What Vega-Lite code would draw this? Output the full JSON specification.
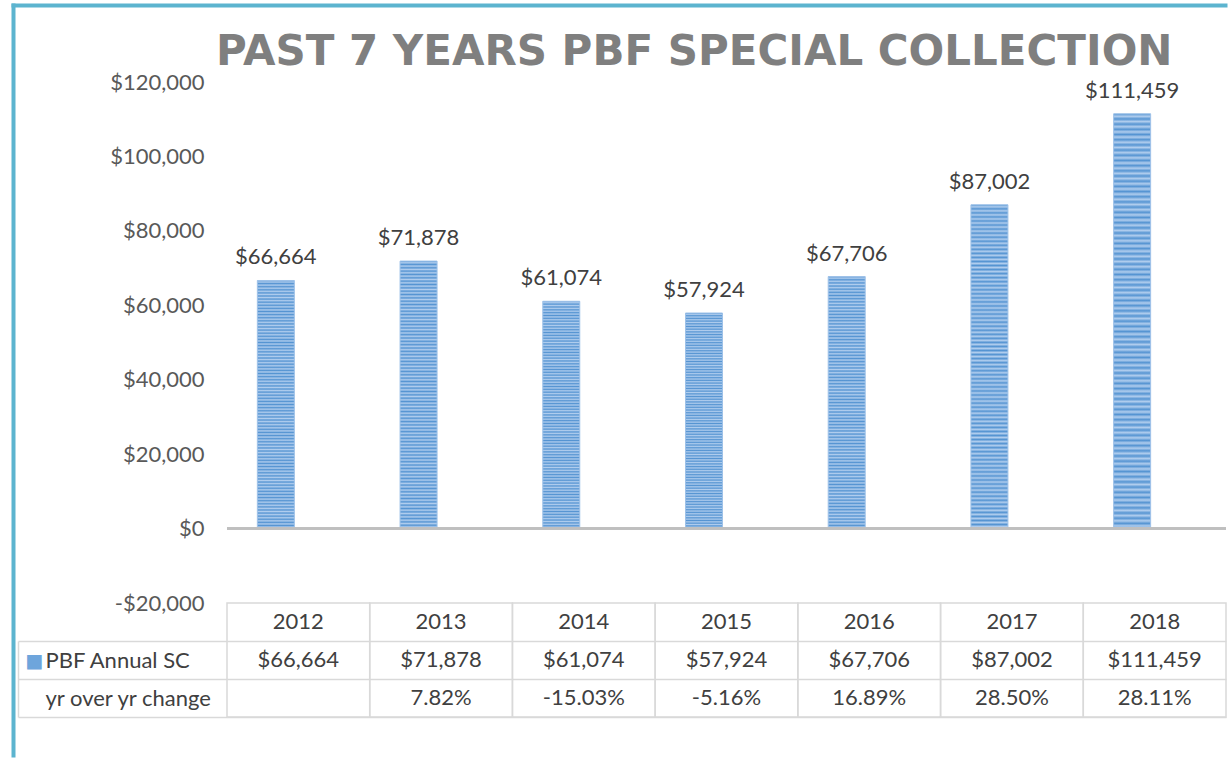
{
  "$schema": "https://vega.github.io/schema/vega-lite/v6.json",
  "background": "white",
  "padding": {"left": 8, "top": 5, "right": 0, "bottom": 0},
  "autosize": {"type": "pad"},
  "spacing": 0,
  "bounds": "flush",
  "config": {
    "view": {"stroke": null},
    "font": "Lato",
    "locale": {"number": {"decimal": ".", "thousands": ",", "grouping": [3], "currency": ["$", ""], "minus": "-"}},
    "text": {"font": "Lato", "fontSize": 22, "color": "#404040"}
  },
  "datasets": {
    "collection": [
      {"year": "2012", "series": "PBF Annual SC", "value": 66664},
      {"year": "2013", "series": "PBF Annual SC", "value": 71878},
      {"year": "2014", "series": "PBF Annual SC", "value": 61074},
      {"year": "2015", "series": "PBF Annual SC", "value": 57924},
      {"year": "2016", "series": "PBF Annual SC", "value": 67706},
      {"year": "2017", "series": "PBF Annual SC", "value": 87002},
      {"year": "2018", "series": "PBF Annual SC", "value": 111459},
      {"year": "2013", "series": "yr over yr change", "value": 0.0782},
      {"year": "2014", "series": "yr over yr change", "value": -0.1503},
      {"year": "2015", "series": "yr over yr change", "value": -0.0516},
      {"year": "2016", "series": "yr over yr change", "value": 0.1689},
      {"year": "2017", "series": "yr over yr change", "value": 0.2850},
      {"year": "2018", "series": "yr over yr change", "value": 0.2811}
    ]
  },
  "vconcat": [
    {
      "width": 999,
      "height": 521,
      "title": {
        "text": "PAST 7 YEARS PBF SPECIAL COLLECTION",
        "frame": "group",
        "anchor": "start",
        "dx": -11,
        "offset": -102,
        "baseline": "alphabetic",
        "font": "DejaVu Sans",
        "fontSize": 42,
        "fontWeight": "bold",
        "color": "#7f7f7f"
      },
      "layer": [
        {
          "data": {"name": "collection"},
          "transform": [{"filter": "datum.series === 'PBF Annual SC'"}],
          "layer": [
            {
              "mark": {
                "type": "bar",
                "stroke": "#9dc1e8",
                "strokeWidth": 1,
                "fill": {
                  "gradient": "linear", "x1": 0, "y1": 0, "x2": 0, "y2": 1,
                  "stops": [
                    {"offset": 0, "color": "#5594d2"}, {"offset": 0.00625, "color": "#b0cdee"}, {"offset": 0.0125, "color": "#5594d2"}, {"offset": 0.01875, "color": "#b0cdee"}, {"offset": 0.025, "color": "#5594d2"}, {"offset": 0.03125, "color": "#b0cdee"}, {"offset": 0.0375, "color": "#5594d2"}, {"offset": 0.04375, "color": "#b0cdee"}, {"offset": 0.05, "color": "#5594d2"}, {"offset": 0.05625, "color": "#b0cdee"}, {"offset": 0.0625, "color": "#5594d2"}, {"offset": 0.06875, "color": "#b0cdee"}, {"offset": 0.075, "color": "#5594d2"}, {"offset": 0.08125, "color": "#b0cdee"}, {"offset": 0.0875, "color": "#5594d2"}, {"offset": 0.09375, "color": "#b0cdee"},
                    {"offset": 0.1, "color": "#5594d2"}, {"offset": 0.10625, "color": "#b0cdee"}, {"offset": 0.1125, "color": "#5594d2"}, {"offset": 0.11875, "color": "#b0cdee"}, {"offset": 0.125, "color": "#5594d2"}, {"offset": 0.13125, "color": "#b0cdee"}, {"offset": 0.1375, "color": "#5594d2"}, {"offset": 0.14375, "color": "#b0cdee"}, {"offset": 0.15, "color": "#5594d2"}, {"offset": 0.15625, "color": "#b0cdee"}, {"offset": 0.1625, "color": "#5594d2"}, {"offset": 0.16875, "color": "#b0cdee"}, {"offset": 0.175, "color": "#5594d2"}, {"offset": 0.18125, "color": "#b0cdee"}, {"offset": 0.1875, "color": "#5594d2"}, {"offset": 0.19375, "color": "#b0cdee"},
                    {"offset": 0.2, "color": "#5594d2"}, {"offset": 0.20625, "color": "#b0cdee"}, {"offset": 0.2125, "color": "#5594d2"}, {"offset": 0.21875, "color": "#b0cdee"}, {"offset": 0.225, "color": "#5594d2"}, {"offset": 0.23125, "color": "#b0cdee"}, {"offset": 0.2375, "color": "#5594d2"}, {"offset": 0.24375, "color": "#b0cdee"}, {"offset": 0.25, "color": "#5594d2"}, {"offset": 0.25625, "color": "#b0cdee"}, {"offset": 0.2625, "color": "#5594d2"}, {"offset": 0.26875, "color": "#b0cdee"}, {"offset": 0.275, "color": "#5594d2"}, {"offset": 0.28125, "color": "#b0cdee"}, {"offset": 0.2875, "color": "#5594d2"}, {"offset": 0.29375, "color": "#b0cdee"},
                    {"offset": 0.3, "color": "#5594d2"}, {"offset": 0.30625, "color": "#b0cdee"}, {"offset": 0.3125, "color": "#5594d2"}, {"offset": 0.31875, "color": "#b0cdee"}, {"offset": 0.325, "color": "#5594d2"}, {"offset": 0.33125, "color": "#b0cdee"}, {"offset": 0.3375, "color": "#5594d2"}, {"offset": 0.34375, "color": "#b0cdee"}, {"offset": 0.35, "color": "#5594d2"}, {"offset": 0.35625, "color": "#b0cdee"}, {"offset": 0.3625, "color": "#5594d2"}, {"offset": 0.36875, "color": "#b0cdee"}, {"offset": 0.375, "color": "#5594d2"}, {"offset": 0.38125, "color": "#b0cdee"}, {"offset": 0.3875, "color": "#5594d2"}, {"offset": 0.39375, "color": "#b0cdee"},
                    {"offset": 0.4, "color": "#5594d2"}, {"offset": 0.40625, "color": "#b0cdee"}, {"offset": 0.4125, "color": "#5594d2"}, {"offset": 0.41875, "color": "#b0cdee"}, {"offset": 0.425, "color": "#5594d2"}, {"offset": 0.43125, "color": "#b0cdee"}, {"offset": 0.4375, "color": "#5594d2"}, {"offset": 0.44375, "color": "#b0cdee"}, {"offset": 0.45, "color": "#5594d2"}, {"offset": 0.45625, "color": "#b0cdee"}, {"offset": 0.4625, "color": "#5594d2"}, {"offset": 0.46875, "color": "#b0cdee"}, {"offset": 0.475, "color": "#5594d2"}, {"offset": 0.48125, "color": "#b0cdee"}, {"offset": 0.4875, "color": "#5594d2"}, {"offset": 0.49375, "color": "#b0cdee"},
                    {"offset": 0.5, "color": "#5594d2"}, {"offset": 0.50625, "color": "#b0cdee"}, {"offset": 0.5125, "color": "#5594d2"}, {"offset": 0.51875, "color": "#b0cdee"}, {"offset": 0.525, "color": "#5594d2"}, {"offset": 0.53125, "color": "#b0cdee"}, {"offset": 0.5375, "color": "#5594d2"}, {"offset": 0.54375, "color": "#b0cdee"}, {"offset": 0.55, "color": "#5594d2"}, {"offset": 0.55625, "color": "#b0cdee"}, {"offset": 0.5625, "color": "#5594d2"}, {"offset": 0.56875, "color": "#b0cdee"}, {"offset": 0.575, "color": "#5594d2"}, {"offset": 0.58125, "color": "#b0cdee"}, {"offset": 0.5875, "color": "#5594d2"}, {"offset": 0.59375, "color": "#b0cdee"},
                    {"offset": 0.6, "color": "#5594d2"}, {"offset": 0.60625, "color": "#b0cdee"}, {"offset": 0.6125, "color": "#5594d2"}, {"offset": 0.61875, "color": "#b0cdee"}, {"offset": 0.625, "color": "#5594d2"}, {"offset": 0.63125, "color": "#b0cdee"}, {"offset": 0.6375, "color": "#5594d2"}, {"offset": 0.64375, "color": "#b0cdee"}, {"offset": 0.65, "color": "#5594d2"}, {"offset": 0.65625, "color": "#b0cdee"}, {"offset": 0.6625, "color": "#5594d2"}, {"offset": 0.66875, "color": "#b0cdee"}, {"offset": 0.675, "color": "#5594d2"}, {"offset": 0.68125, "color": "#b0cdee"}, {"offset": 0.6875, "color": "#5594d2"}, {"offset": 0.69375, "color": "#b0cdee"},
                    {"offset": 0.7, "color": "#5594d2"}, {"offset": 0.70625, "color": "#b0cdee"}, {"offset": 0.7125, "color": "#5594d2"}, {"offset": 0.71875, "color": "#b0cdee"}, {"offset": 0.725, "color": "#5594d2"}, {"offset": 0.73125, "color": "#b0cdee"}, {"offset": 0.7375, "color": "#5594d2"}, {"offset": 0.74375, "color": "#b0cdee"}, {"offset": 0.75, "color": "#5594d2"}, {"offset": 0.75625, "color": "#b0cdee"}, {"offset": 0.7625, "color": "#5594d2"}, {"offset": 0.76875, "color": "#b0cdee"}, {"offset": 0.775, "color": "#5594d2"}, {"offset": 0.78125, "color": "#b0cdee"}, {"offset": 0.7875, "color": "#5594d2"}, {"offset": 0.79375, "color": "#b0cdee"},
                    {"offset": 0.8, "color": "#5594d2"}, {"offset": 0.80625, "color": "#b0cdee"}, {"offset": 0.8125, "color": "#5594d2"}, {"offset": 0.81875, "color": "#b0cdee"}, {"offset": 0.825, "color": "#5594d2"}, {"offset": 0.83125, "color": "#b0cdee"}, {"offset": 0.8375, "color": "#5594d2"}, {"offset": 0.84375, "color": "#b0cdee"}, {"offset": 0.85, "color": "#5594d2"}, {"offset": 0.85625, "color": "#b0cdee"}, {"offset": 0.8625, "color": "#5594d2"}, {"offset": 0.86875, "color": "#b0cdee"}, {"offset": 0.875, "color": "#5594d2"}, {"offset": 0.88125, "color": "#b0cdee"}, {"offset": 0.8875, "color": "#5594d2"}, {"offset": 0.89375, "color": "#b0cdee"},
                    {"offset": 0.9, "color": "#5594d2"}, {"offset": 0.90625, "color": "#b0cdee"}, {"offset": 0.9125, "color": "#5594d2"}, {"offset": 0.91875, "color": "#b0cdee"}, {"offset": 0.925, "color": "#5594d2"}, {"offset": 0.93125, "color": "#b0cdee"}, {"offset": 0.9375, "color": "#5594d2"}, {"offset": 0.94375, "color": "#b0cdee"}, {"offset": 0.95, "color": "#5594d2"}, {"offset": 0.95625, "color": "#b0cdee"}, {"offset": 0.9625, "color": "#5594d2"}, {"offset": 0.96875, "color": "#b0cdee"}, {"offset": 0.975, "color": "#5594d2"}, {"offset": 0.98125, "color": "#b0cdee"}, {"offset": 0.9875, "color": "#5594d2"}, {"offset": 0.99375, "color": "#b0cdee"},
                    {"offset": 1, "color": "#5594d2"}
                  ]
                }
              },
              "encoding": {
                "x": {"field": "year", "type": "nominal", "scale": {"paddingInner": 0.4254, "paddingOuter": 0.2127}, "axis": null},
                "xOffset": {"field": "series", "type": "nominal", "scale": {"domain": ["PBF Annual SC", "yr over yr change"], "paddingInner": 0.178, "paddingOuter": 0}},
                "y": {
                  "field": "value", "type": "quantitative",
                  "scale": {"domain": [-20000, 120000], "nice": false},
                  "axis": {
                    "title": null, "orient": "left", "domain": false, "ticks": false, "grid": false,
                    "values": [-20000, 0, 20000, 40000, 60000, 80000, 100000, 120000],
                    "format": "$,.0f", "labelPadding": 23, "labelFont": "Lato", "labelFontSize": 22, "labelColor": "#595959"
                  }
                }
              }
            },
            {
              "mark": {"type": "text", "dy": -16, "baseline": "alphabetic", "font": "Lato", "fontSize": 22, "color": "#404040"},
              "encoding": {
                "x": {"field": "year", "type": "nominal"},
                "xOffset": {"field": "series", "type": "nominal"},
                "y": {"field": "value", "type": "quantitative"},
                "text": {"field": "value", "type": "quantitative", "format": "$,.0f"}
              }
            },
            {
              "mark": {"type": "rule", "color": "#bfbfbf", "strokeWidth": 2},
              "encoding": {"y": {"datum": 0, "type": "quantitative"}}
            }
          ]
        },
        {
          "data": {"values": [{"frame": 0}]},
          "mark": {"type": "point", "opacity": 0},
          "encoding": {
            "x": {
              "datum": 0, "type": "quantitative",
              "scale": {"domain": [0, 1], "range": [-216, 1000], "nice": false, "zero": false},
              "axis": {"orient": "top", "offset": 77, "domain": true, "domainColor": "#5cb4cf", "domainWidth": 4, "labels": false, "ticks": false, "grid": false, "title": null}
            },
            "y": {
              "datum": 0, "type": "quantitative",
              "scale": {"domain": [0, 1], "range": [675, -79], "nice": false, "zero": false},
              "axis": {"orient": "left", "offset": 214, "domain": true, "domainColor": "#5cb4cf", "domainWidth": 4, "labels": false, "ticks": false, "grid": false, "title": null}
            }
          }
        }
      ],
      "resolve": {"scale": {"x": "independent", "y": "independent"}, "axis": {"x": "independent", "y": "independent"}}
    },
    {
      "width": 999,
      "height": 114,
      "data": {"name": "collection"},
      "layer": [
        {
          "layer": [
            {
              "transform": [{"filter": "datum.series === 'PBF Annual SC'"}],
              "mark": {"type": "rect", "fillOpacity": 0, "stroke": "#d9d9d9", "strokeWidth": 1.5},
              "encoding": {
                "x": {"field": "year", "type": "nominal", "scale": {"paddingInner": 0, "paddingOuter": 0}, "axis": null}
              }
            },
            {
              "transform": [{"filter": "datum.series === 'PBF Annual SC'"}],
              "mark": {"type": "text", "font": "Lato", "fontSize": 22, "color": "#404040"},
              "encoding": {
                "x": {"field": "year", "type": "nominal"},
                "y": {
                  "datum": "Year", "type": "nominal",
                  "scale": {"domain": ["Year", "PBF Annual SC", "yr over yr change"], "paddingInner": 0, "paddingOuter": 0},
                  "axis": {
                    "orient": "left", "title": null, "domain": false,
                    "grid": true, "gridColor": "#d9d9d9", "gridWidth": 1.5,
                    "ticks": true, "tickSize": 209, "tickColor": "#d9d9d9", "tickWidth": 1.5,
                    "tickOffset": 19,
                    "labelOffset": -19,
                    "labelAlign": "left", "labelBaseline": "middle", "labelPadding": -27, "labelLimit": 0,
                    "labelFont": "Lato", "labelFontSize": 22, "labelColor": "#404040",
                    "labelExpr": "datum.value === 'Year' ? '' : datum.label"
                  }
                },
                "text": {"field": "year", "type": "nominal"}
              }
            },
            {
              "transform": [{"filter": "datum.series === 'PBF Annual SC'"}],
              "mark": {"type": "text", "font": "Lato", "fontSize": 22, "color": "#404040"},
              "encoding": {
                "x": {"field": "year", "type": "nominal"},
                "y": {"datum": "PBF Annual SC", "type": "nominal"},
                "text": {"field": "value", "type": "quantitative", "format": "$,.0f"}
              }
            },
            {
              "transform": [{"filter": "datum.series === 'yr over yr change'"}],
              "mark": {"type": "text", "font": "Lato", "fontSize": 22, "color": "#404040"},
              "encoding": {
                "x": {"field": "year", "type": "nominal"},
                "y": {"datum": "yr over yr change", "type": "nominal"},
                "text": {"field": "value", "type": "quantitative", "format": ".2%"}
              }
            }
          ]
        },
        {
          "transform": [{"filter": "datum.series === 'PBF Annual SC'"}],
          "mark": {"type": "text", "opacity": 0, "text": ""},
          "encoding": {
            "y": {
              "datum": "PBF Annual SC", "type": "nominal",
              "axis": {
                "orient": "left", "offset": 209, "title": null,
                "domain": true, "domainColor": "#d9d9d9", "domainWidth": 1.5, "domainDash": [0, 38, 76],
                "ticks": false, "tickSize": 0, "grid": false,
                "labelExpr": "datum.value === 'PBF Annual SC' ? '■' : ''",
                "labelColor": "#6ea5dc", "labelFont": "DejaVu Sans", "labelFontSize": 19,
                "labelAlign": "left", "labelBaseline": "middle", "labelPadding": -7
              }
            }
          }
        }
      ],
      "resolve": {"axis": {"y": "independent"}}
    }
  ]
}
